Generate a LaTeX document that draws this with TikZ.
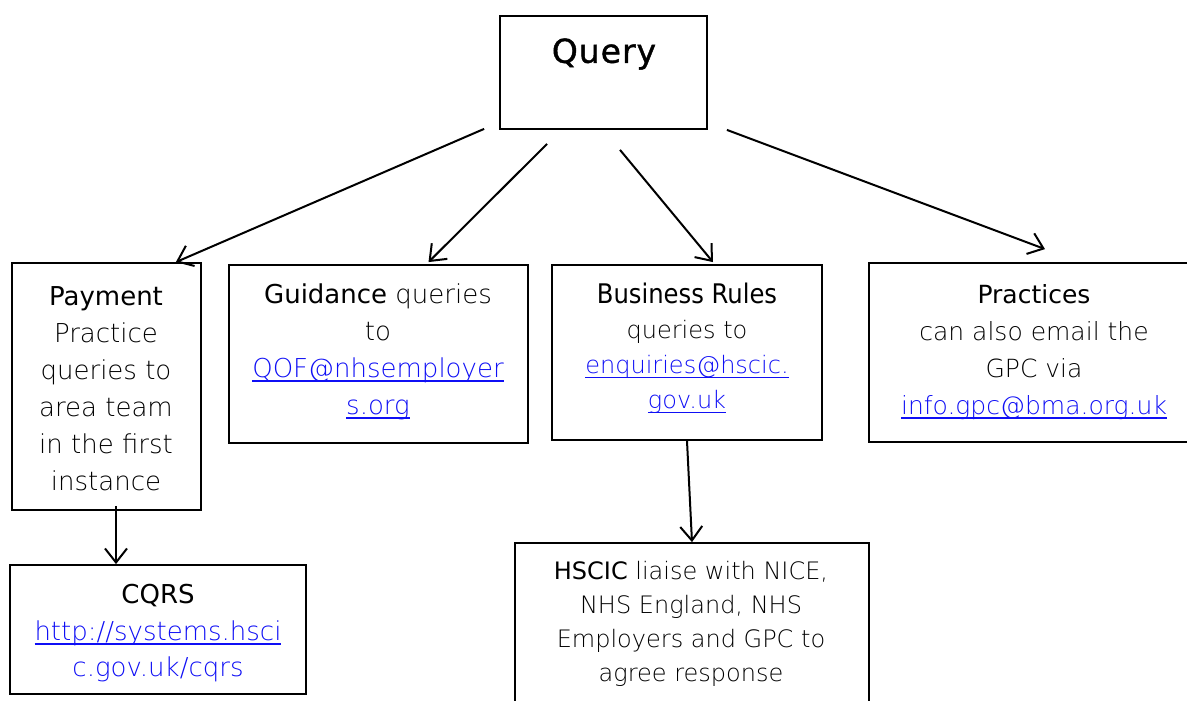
\documentclass[tikz,border=0pt]{standalone}
\usepackage{fontspec}
\usetikzlibrary{arrows.meta}
\setmainfont{DejaVu Sans}
\newfontfamily\condfont{DejaVu Sans Condensed}
\newfontfamily\spacedfont[LetterSpace=3,FakeBold=1.2]{DejaVu Sans}
\IfFontExistsTF{DejaVu Sans ExtraLight}{\newfontfamily\lightfont{DejaVu Sans ExtraLight}}{\newfontfamily\lightfont{DejaVu Sans}}
\definecolor{linkblue}{RGB}{15,15,245}
\newcommand{\lk}[1]{{\color{linkblue}\setbox0\hbox{#1}\rlap{\rule[-4.5pt]{\wd0}{1.7pt}}\box0}}
\newcommand{\lt}[1]{{\lightfont #1}}
\begin{document}
\begin{tikzpicture}[x=1pt,y=-1pt,
  box/.style={draw, line width=1.8pt, inner sep=0pt},
  txt/.style={align=center, inner sep=0pt},
  arr/.style={-{Straight Barb[length=14pt,width=22pt,line width=2pt]}, line width=2pt}]
\useasboundingbox (0,0) rectangle (1187,701);
% boxes
\node[box, minimum width=207pt, minimum height=113pt] (query) at (603.5,72.5) {};
\node[box, minimum width=189pt, minimum height=247pt] (pay) at (106.5,386.5) {};
\node[box, minimum width=299pt, minimum height=178pt] (guid) at (378.5,354) {};
\node[box, minimum width=270pt, minimum height=175pt] (bus) at (687,352.5) {};
\node[box, minimum width=330pt, minimum height=179pt] (prac) at (1034,352.5) {};
\node[box, minimum width=296pt, minimum height=129pt] (cqrs) at (158,629.5) {};
\node[box, minimum width=354pt, minimum height=169pt] (hscic) at (692,627.5) {};
% texts
\node[txt, font=\fontsize{33}{38}\selectfont\spacedfont] (tq) at (604,54) {Query};
\node[txt, font=\fontsize{26}{37}\selectfont] (tpay) at (106,389)
  {Payment\\ \lt{Practice}\\ \lt{queries to}\\ \lt{area team}\\ \lt{in the first}\\ \lt{instance}};
\node[txt, font=\fontsize{26}{37}\selectfont] (tguid) at (378,352)
  {Guidance \lt{queries}\\ \lt{to}\\ \lk{\lt{QOF@nhsemployer}}\\ \lk{\lt{s.org}}};
\node[txt, font=\fontsize{24}{35}\selectfont] (tbus) at (687,348.5)
  {{\condfont\fontsize{27}{35}\selectfont Business Rules}\\ \lt{queries to}\\ \lk{\lt{enquiries@hscic.}}\\ \lk{\lt{gov.uk}}};
\node[txt, font=\fontsize{25}{37}\selectfont] (tprac) at (1034,352)
  {Practices\\ \lt{can also email the}\\ \lt{GPC via}\\ \lk{\lt{info.gpc@bma.org.uk}}};
\node[txt, font=\fontsize{26}{36.5}\selectfont] (tcqrs) at (158,633.5)
  {CQRS\\ \lk{\lt{http://systems.hsci}}\\ {\color{linkblue}\lt{c.gov.uk/cqrs}}};
\node[txt, font=\fontsize{24}{34}\selectfont] (thscic) at (691,624)
  {HSCIC \lt{liaise with NICE,}\\ \lt{NHS England, NHS}\\ \lt{Employers and GPC to}\\ \lt{agree response}};
% connectors
\draw[arr] ([shift={(-15,-1)}]query.south west) -- ([shift={(-26,0)}]pay.north east);
\draw[arr] ([shift={(48,14)}]query.south west) -- ([shift={(50,-2)}]guid.north);
\draw[arr] ([shift={(16.5,20)}]query.south) -- ([shift={(26,-2)}]bus.north);
\draw[arr] ([shift={(19,0)}]query.south east) -- ([shift={(11,-13)}]prac.north);
\draw[arr] ([shift={(9.5,-5)}]pay.south) -- ([shift={(-42,0)}]cqrs.north);
\draw[arr] (bus.south) -- (hscic.north);
\end{tikzpicture}
\end{document}
